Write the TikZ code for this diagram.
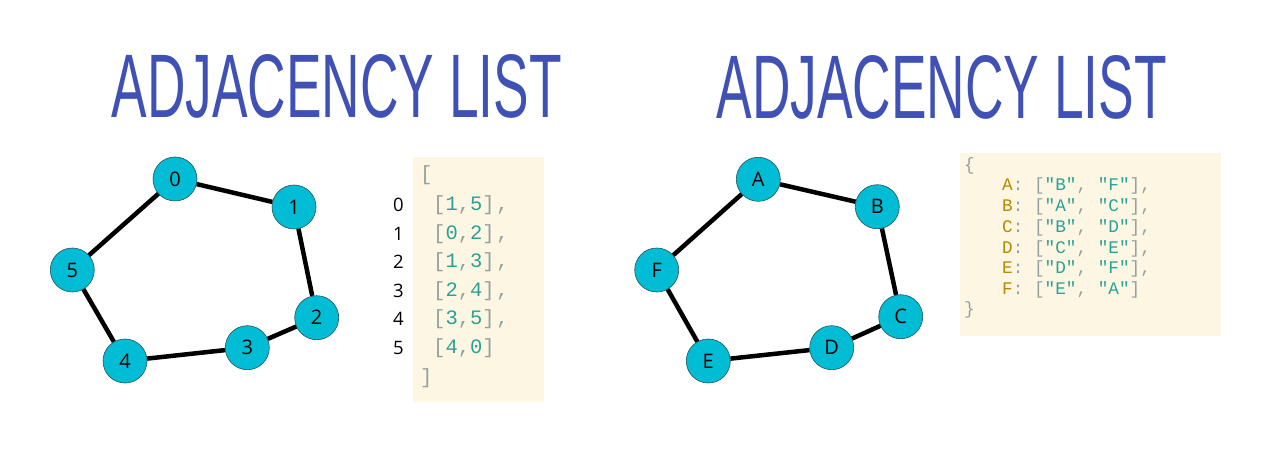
\documentclass[tikz,border=0pt]{standalone}
\usepackage{graphicx}
\usepackage{fontspec}
\setmainfont{Open Sans}
\newfontfamily\titlefont{Liberation Sans}
\newfontfamily\codefont[LetterSpace=8,Ligatures=TeXOff]{Liberation Mono}
\newfontfamily\jsonfont[Ligatures=TeXOff]{Liberation Mono}
\definecolor{titleblue}{HTML}{3F51B5}
\definecolor{vcyan}{HTML}{00BCD4}
\definecolor{vborder}{HTML}{22555C}
\definecolor{solbg}{HTML}{FDF6E3}
\definecolor{solgray}{HTML}{93A1A1}
\definecolor{solcyan}{HTML}{2AA198}
\definecolor{solyellow}{HTML}{B58900}
\newcommand\cg[1]{\textcolor{solgray}{#1}}
\newcommand\cc[1]{\textcolor{solcyan}{#1}}
\newcommand\cy[1]{\textcolor{solyellow}{#1}}
\newcommand\qq[1]{\cc{"#1"}}
\begin{document}
\begin{tikzpicture}[x=1pt,y=-1pt,
  vtx/.style={circle,draw=vborder,line width=0.6pt,fill=vcyan,minimum size=44pt,inner sep=0pt,font=\fontsize{20}{20}\selectfont},
  edge/.style={line width=4.5pt,black},
  titletext/.style={text=titleblue,inner sep=0pt},
  codebox/.style={fill=solbg,draw=none},
  codeline/.style={anchor=base west,inner sep=0pt,font=\codefont\fontsize{20.5}{20.5}\selectfont},
  jsonline/.style={anchor=base west,inner sep=0pt,font=\jsonfont\fontsize{17.7}{17.7}\selectfont},
  idx/.style={inner sep=0pt,font=\fontsize{18.5}{18.5}\selectfont}]
\useasboundingbox (0,0) rectangle (1280,454);
\fill[white] (0,0) rectangle (1280,454);

% titles
\node[titletext] (t1) at (336.7,86.7) {\resizebox{450pt}{63pt}{\titlefont ADJACENCY LIST}};
\node[titletext] (t2) at (941.7,87) {\resizebox{450pt}{63pt}{\titlefont ADJACENCY LIST}};

% left graph
\node[vtx] (n0) at (175,179) {0};
\node[vtx] (n1) at (294,207) {1};
\node[vtx] (n2) at (316.7,317.7) {2};
\node[vtx] (n3) at (247.3,347.7) {3};
\node[vtx] (n4) at (125,361) {4};
\node[vtx] (n5) at (72.3,270) {5};
\draw[edge] (n0) -- (n1);
\draw[edge] (n1) -- (n2);
\draw[edge] (n2) -- (n3);
\draw[edge] (n3) -- (n4);
\draw[edge] (n4) -- (n5);
\draw[edge] (n5) -- (n0);

% right graph
\node[vtx] (nA) at (758.3,179.3) {A};
\node[vtx] (nB) at (877.3,206.7) {B};
\node[vtx] (nC) at (900.7,316.7) {C};
\node[vtx] (nD) at (831.7,347.7) {D};
\node[vtx] (nE) at (708.3,361) {E};
\node[vtx] (nF) at (656.7,270) {F};
\draw[edge] (nA) -- (nB);
\draw[edge] (nB) -- (nC);
\draw[edge] (nC) -- (nD);
\draw[edge] (nD) -- (nE);
\draw[edge] (nE) -- (nF);
\draw[edge] (nF) -- (nA);

% left code box
\fill[codebox] (413,156.7) rectangle (544,401.7);
\node[codeline] (lo) at (420,181) {\cg{[}};
\node[codeline] (l0) at (433,211) {\cg{[}\cc{1}\cg{,}\cc{5}\cg{],}};
\node[codeline] (l1) at (433,239.5) {\cg{[}\cc{0}\cg{,}\cc{2}\cg{],}};
\node[codeline] (l2) at (433,268) {\cg{[}\cc{1}\cg{,}\cc{3}\cg{],}};
\node[codeline] (l3) at (433,296.5) {\cg{[}\cc{2}\cg{,}\cc{4}\cg{],}};
\node[codeline] (l4) at (433,325) {\cg{[}\cc{3}\cg{,}\cc{5}\cg{],}};
\node[codeline] (l5) at (433,353.5) {\cg{[}\cc{4}\cg{,}\cc{0}\cg{]}};
\node[codeline] (lc) at (420,383) {\cg{]}};
\node[idx] (i0) at (398.5,205) {0};
\node[idx] (i1) at (398.5,233.5) {1};
\node[idx] (i2) at (398.5,262) {2};
\node[idx] (i3) at (398.5,290.5) {3};
\node[idx] (i4) at (398.5,319) {4};
\node[idx] (i5) at (398.5,347.5) {5};

% right code box
\fill[codebox] (960,152.7) rectangle (1220.7,336);
\node[jsonline] (jo) at (964,170.5) {\cg{\{}};
\node[jsonline] (jA) at (1002,191) {\cy{A}\cg{: [}\qq{B}\cg{, }\qq{F}\cg{],}};
\node[jsonline] (jB) at (1002,211.7) {\cy{B}\cg{: [}\qq{A}\cg{, }\qq{C}\cg{],}};
\node[jsonline] (jC) at (1002,232.4) {\cy{C}\cg{: [}\qq{B}\cg{, }\qq{D}\cg{],}};
\node[jsonline] (jD) at (1002,253.1) {\cy{D}\cg{: [}\qq{C}\cg{, }\qq{E}\cg{],}};
\node[jsonline] (jE) at (1002,273.8) {\cy{E}\cg{: [}\qq{D}\cg{, }\qq{F}\cg{],}};
\node[jsonline] (jF) at (1002,294.5) {\cy{F}\cg{: [}\qq{E}\cg{, }\qq{A}\cg{]}};
\node[jsonline] (jc) at (964,315) {\cg{\}}};
\end{tikzpicture}
\end{document}
